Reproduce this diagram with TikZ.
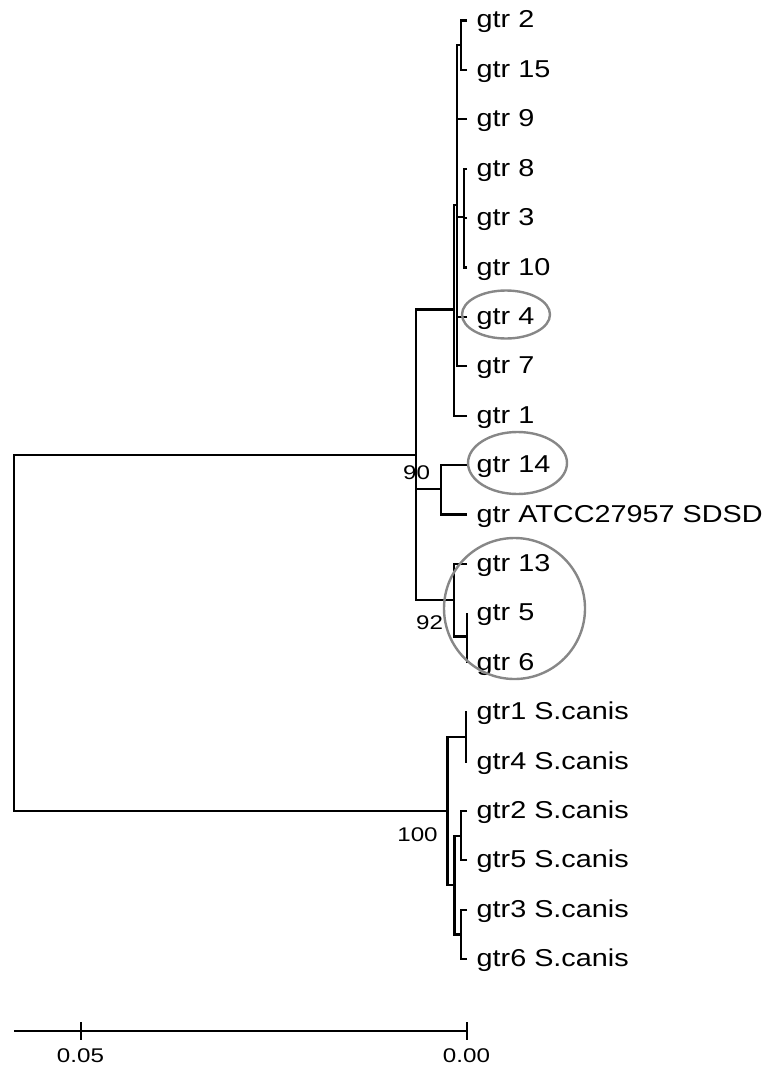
\documentclass[tikz,border=0pt]{standalone}
\usepackage{fontspec}
\setmainfont{Liberation Sans}[FakeStretch=1.18]
\newfontfamily\bsfont{Liberation Sans}[FakeStretch=1.22]
\usetikzlibrary{calc}
\tikzset{
  br/.style={line width=2.1pt, line join=miter},
  lab/.style={anchor=base west, inner sep=0pt, font=\fontsize{24.4}{26}\selectfont},
  bs/.style={anchor=base, inner sep=0pt, font=\bsfont\fontsize{19.8}{21}\selectfont},
  ring/.style={draw=black!47, line width=2.4pt},
}
\begin{document}
\begin{tikzpicture}[x=1pt,y=-1pt]
\useasboundingbox (0,0) rectangle (777,1070);
% leaves
\foreach \i/\t in {1/gtr 2,2/gtr 15,3/gtr 9,4/gtr 8,5/gtr 3,6/gtr 10,7/gtr 4,8/gtr 7,9/gtr 1,10/gtr 14,11/gtr ATCC27957 SDSD,12/gtr 13,13/gtr 5,14/gtr 6,15/gtr1 S.canis,16/gtr4 S.canis,17/gtr2 S.canis,18/gtr5 S.canis,19/gtr3 S.canis,20/gtr6 S.canis}{
  \coordinate (L\i) at (467,{20.5+49.4*(\i-1)});
  \node[lab] (T\i) at ($(L\i)+(9.5,7.5)$) {\t};
}
% internal nodes
\coordinate (A) at (460.7,45);
\coordinate (C) at (464,217);
\coordinate (P) at (456.7,205);
\coordinate (Q) at (454,309.5);
\coordinate (D) at (441,489);
\coordinate (E) at (467,636.5);
\coordinate (S) at (454,600);
\coordinate (R) at (415.7,455);
\coordinate (F) at (466,737);
\coordinate (G) at (461,836);
\coordinate (H) at (461,934.5);
\coordinate (U) at (454.5,885);
\coordinate (K) at (447.5,811);
\coordinate (Root) at (14,633);
% branches
\draw[br] (L1) -| (A); \draw[br] (L2) -| (A);
\draw[br] (L4) -| (C); \draw[br] (L5) -| (C); \draw[br] (L6) -| (C);
\draw[br] (A) -| (P); \draw[br] (L3) -| (P); \draw[br] (C) -| (P);
\draw[br] (L7) -| (P); \draw[br] (L8) -| (P);
\draw[br] (P) -| (Q); \draw[br] (L9) -| (Q);
\draw[br] (L10) -| (D); \draw[br] (L11) -| (D);
\draw[br] (L13) -| (E); \draw[br] (L14) -| (E);
\draw[br] (L12) -| (S); \draw[br] (E) -| (S);
\draw[br] (Q) -| (R); \draw[br] (D) -| (R); \draw[br] (S) -| (R);
\draw[br] (L15) -| (F); \draw[br] (L16) -| (F);
\draw[br] (L17) -| (G); \draw[br] (L18) -| (G);
\draw[br] (L19) -| (H); \draw[br] (L20) -| (H);
\draw[br] (G) -| (U); \draw[br] (H) -| (U);
\draw[br] (F) -| (K); \draw[br] (U) -| (K);
\draw[br] (R) -| (Root); \draw[br] (K) -| (Root);
% bootstrap values
\node[bs] (b90) at (416.5,479) {90};
\node[bs] (b92) at (429.5,629) {92};
\node[bs] (b100) at (417.5,841) {100};
% rings
\draw[ring] (506,314.5) ellipse [x radius=44, y radius=24];
\draw[ring] (517.5,463) ellipse [x radius=49.5, y radius=31];
\draw[ring] (514.5,608.5) circle [radius=70.5];
% scale bar
\coordinate (s0) at (14,1031);
\coordinate (s1) at (467,1031);
\coordinate (t05) at (81,1031);
\draw[br] (s0) -- (s1);
\draw[br] ($(t05)+(0,-9)$) -- ($(t05)+(0,9)$);
\draw[br] ($(s1)+(0,-9)$) -- ($(s1)+(0,9)$);
\node[bs] (l05) at (80.5,1062) {0.05};
\node[bs] (l00) at (466.5,1062) {0.00};
\end{tikzpicture}
\end{document}
